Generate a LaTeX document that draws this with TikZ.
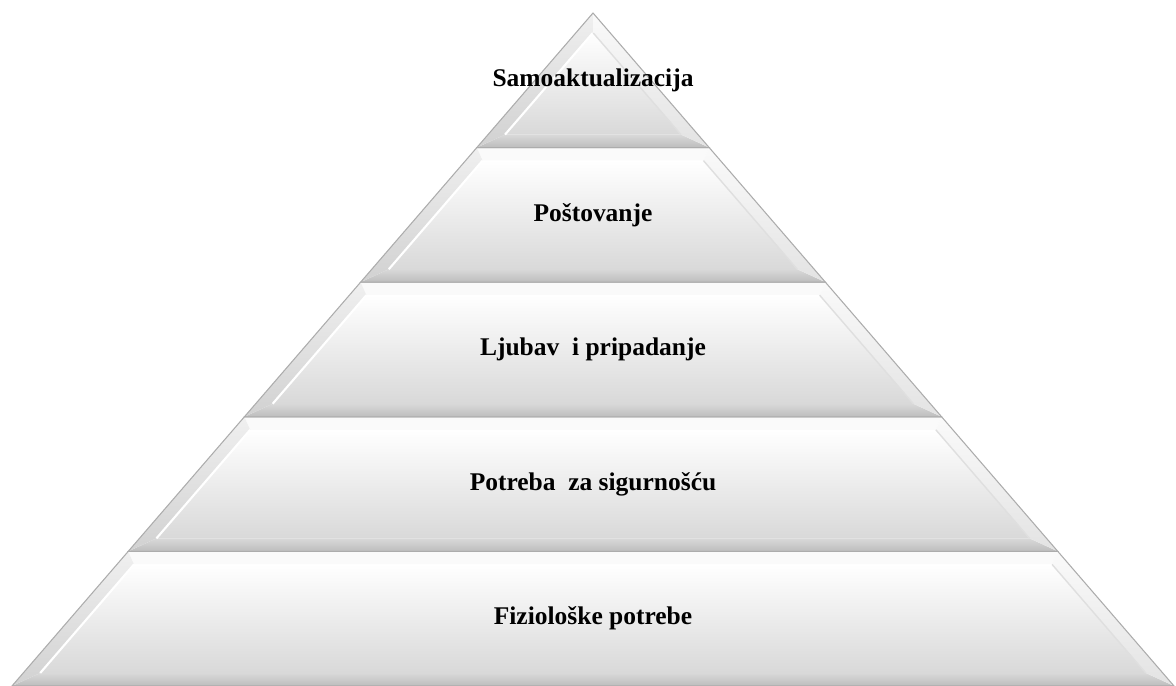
\documentclass[tikz,border=0pt]{standalone}
\usepackage{fontspec}
\setmainfont{Liberation Serif}
\tikzset{
	layerface/.style={top color=white, bottom color=gray!30},
	rimleft/.style={top color=gray!12, bottom color=gray!36},
	rimright/.style={top color=gray!4, bottom color=gray!22},
	rimtop/.style={fill=gray!4},
	rimbottom/.style={top color=gray!30, bottom color=gray!52},
	layeredge/.style={draw=gray!65, line width=0.6pt},
	layertext/.style={font=\fontsize{14.5}{16}\selectfont\bfseries, text=black, inner sep=0pt},
}
\begin{document}
\begin{tikzpicture}[x=0.02cm, y=0.02cm]
\useasboundingbox (0,0) rectangle (1176,686);
\foreach \i/\lbl in {0/Fiziološke potrebe, 1/Potreba~ za sigurnošću, 2/Ljubav~ i pripadanje, 3/Poštovanje, 4/Samoaktualizacija}{
	\pgfmathsetmacro{\yb}{\i*134.6}
	\pgfmathsetmacro{\yt}{\yb+134.6}
	\pgfmathsetmacro{\xbl}{12+0.8633*\yb}
	\pgfmathsetmacro{\xbr}{1174-0.8633*\yb}
	\pgfmathsetmacro{\xtl}{12+0.8633*\yt}
	\pgfmathsetmacro{\xtr}{1174-0.8633*\yt}
	\pgfmathsetmacro{\ybi}{\yb+13}
	\pgfmathsetmacro{\yti}{\yt-(\i==4 ? 20 : 13)}
	\pgfmathsetmacro{\ibl}{12+0.8633*\ybi+17}
	\pgfmathsetmacro{\ibr}{1174-0.8633*\ybi-17}
	\pgfmathsetmacro{\itl}{12+0.8633*\yti+17}
	\pgfmathsetmacro{\itr}{1174-0.8633*\yti-17}
	\shade[rimbottom] (\xbl,\yb) -- (\xbr,\yb) -- (\ibr,\ybi) -- (\ibl,\ybi) -- cycle;
	\fill[rimtop] (\xtl,\yt) -- (\xtr,\yt) -- (\itr,\yti) -- (\itl,\yti) -- cycle;
	\shade[rimleft] (\xbl,\yb) -- (\xtl,\yt) -- (\itl,\yti) -- (\ibl,\ybi) -- cycle;
	\shade[rimright] (\xbr,\yb) -- (\xtr,\yt) -- (\itr,\yti) -- (\ibr,\ybi) -- cycle;
	\shade[layerface] (\ibl,\ybi) -- (\ibr,\ybi) -- (\itr,\yti) -- (\itl,\yti) -- cycle;
	\draw[white, line width=1.2pt] (\ibl,\ybi) -- (\itl,\yti);
	\draw[gray!25, line width=0.8pt] (\ibr,\ybi) -- (\itr,\yti);
	\draw[layeredge] (\xbl,\yb) -- (\xbr,\yb) -- (\xtr,\yt) -- (\xtl,\yt) -- cycle;
	\node[layertext] (lvl\i) at (593,\yb+67.3) {\lbl};
}
\end{tikzpicture}
\end{document}
